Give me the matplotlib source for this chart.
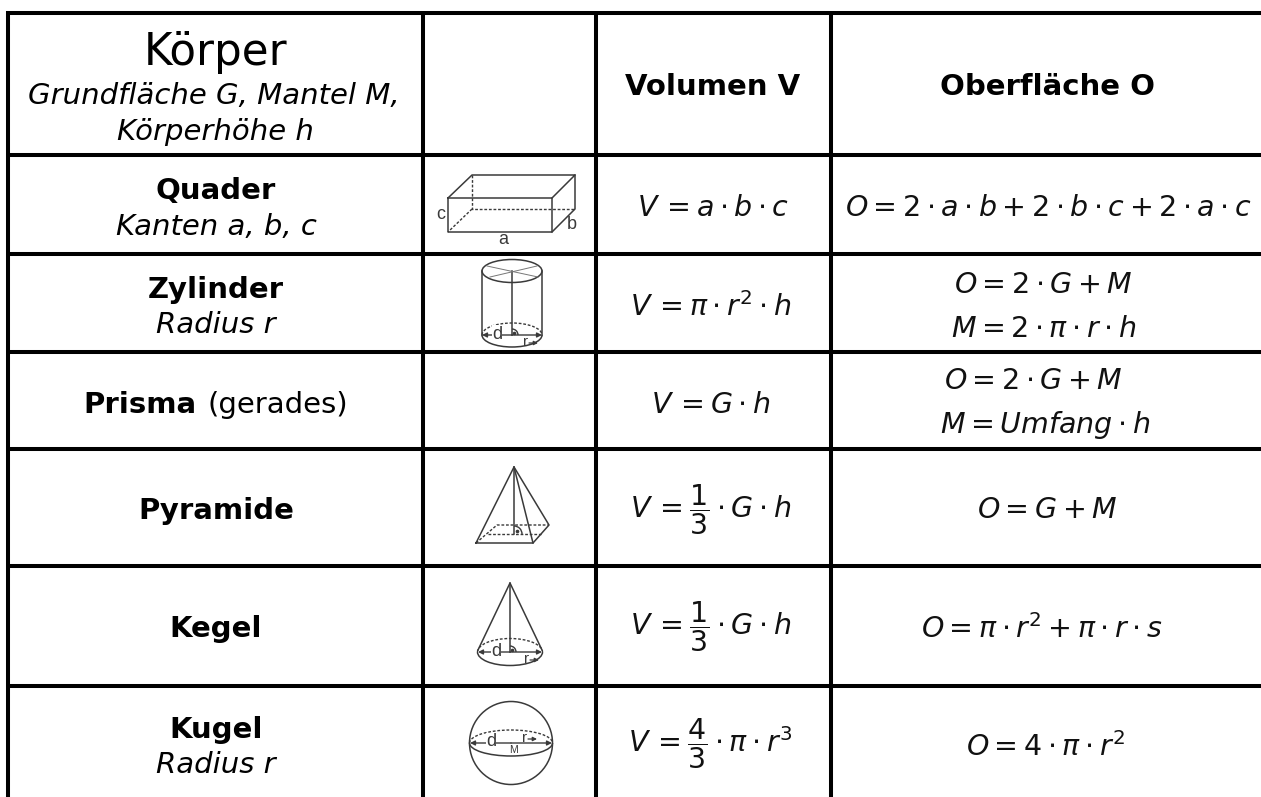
import matplotlib
matplotlib.use('Agg')
import matplotlib.pyplot as plt
from matplotlib.patches import Ellipse, Arc

plt.rcParams['mathtext.fontset'] = 'dejavusans'

# table grid (pixels)
grid_x = [8, 423, 596, 831]
grid_y = [13, 155, 254, 352, 449, 566, 686]

# left column: text, baseline
row_names = [('Quader', 199), ('Zylinder', 298), ('Pyramide', 519), ('Kegel', 637), ('Kugel', 738)]
row_subs = [('Kanten a, b, c', 235), ('Radius r', 333), ('Radius r', 773)]

# formula, left edge, baseline
volume_formulas = [(r'$V\,=a\cdot b\cdot c$', 637, 216),
                   (r'$V\,=\pi\cdot r^{2}\cdot h$', 630, 316),
                   (r'$V\,=G\cdot h$', 651, 413),
                   (r'$V\,=\dfrac{1}{3}\cdot G\cdot h$', 630, 518),
                   (r'$V\,=\dfrac{1}{3}\cdot G\cdot h$', 630, 635),
                   (r'$V\,=\dfrac{4}{3}\cdot\pi\cdot r^{3}$', 628, 752)]
surface_formulas = [(r'$O=2\cdot a\cdot b+2\cdot b\cdot c+2\cdot a\cdot c$', 845, 216),
                    (r'$O=2\cdot G+M$', 954, 293),
                    (r'$M=2\cdot\pi\cdot r\cdot h$', 951, 337),
                    (r'$O=2\cdot G+M$', 944, 389),
                    (r'$M=Umfang\cdot h$', 940, 433),
                    (r'$O=G+M$', 977, 518),
                    (r'$O=\pi\cdot r^{2}+\pi\cdot r\cdot s$', 921, 638),
                    (r'$O=4\cdot\pi\cdot r^{2}$', 966, 756)]

# sketch outlines, pixel positions
quader_solid = [[(448, 198), (552, 198), (552, 232), (448, 232), (448, 198)],
                [(448, 198), (472, 175), (575, 175), (552, 198)],
                [(575, 175), (575, 209), (552, 232)]]
quader_dashed = [[(472, 175), (472, 209), (575, 209)], [(472, 209), (448, 232)]]
quader_labels = [('c', 441, 214), ('a', 503, 239), ('b', 572, 224)]

zylinder_solid = [[(482, 271), (482, 335)], [(542, 271), (542, 335)], [(512, 271), (512, 335)]]
zylinder_cross = [[(490, 277), (537, 266)], [(487, 266), (538, 277)]]

pyramid_solid = [[(476, 543), (533, 543), (549, 525), (514, 467), (476, 543)],
                 [(514, 467), (533, 543)], [(514, 467), (514, 534)]]
pyramid_dashed = [[(476, 543), (497, 525), (549, 525)], [(488, 534), (541, 534)]]

sketch_color = '#3a3a3a'
dash = (0, (2, 1.3))


def draw_lines(ax, paths, style='-', lw=1.1, color=sketch_color):
    for path in paths:
        xs, ys = zip(*path)
        ax.plot(xs, ys, linestyle=style, lw=lw, color=color)


def draw_grid(ax):
    for x in grid_x:
        ax.plot([x, x], [11, 797], color='k', lw=2.9, solid_capstyle='butt')
    for y in grid_y:
        ax.plot([6, 1261], [y, y], color='k', lw=2.9, solid_capstyle='butt')


def draw_disc(ax, cx, cy, w, h):
    # solid front half, dashed back half
    ax.add_patch(Arc((cx, cy), w, h, theta1=0, theta2=180, color=sketch_color, lw=1.1))
    ax.add_patch(Arc((cx, cy), w, h, theta1=180, theta2=360, color=sketch_color, lw=1.0, linestyle=dash))


def draw_radius_marks(ax, cx, cy, half, d_x, r_x, r_y):
    for end in (cx - half, cx + half):
        ax.annotate('', xy=(end, cy), xytext=(cx, cy),
                    arrowprops=dict(arrowstyle='-|>', lw=1.0, color=sketch_color, mutation_scale=7,
                                    shrinkA=0, shrinkB=0))
    ax.text(d_x, cy - 1, 'd', fontsize=13, ha='center', va='center', color=sketch_color, family='Liberation Sans',
            bbox=dict(fc='white', ec='none', pad=0.3))
    ax.text(r_x, r_y, 'r', fontsize=11, ha='center', va='center', color=sketch_color, family='Liberation Sans')
    ax.annotate('', xy=(r_x + 12, r_y + 1), xytext=(r_x + 3, r_y + 1),
                arrowprops=dict(arrowstyle='-|>', lw=0.9, color=sketch_color, mutation_scale=6,
                                shrinkA=0, shrinkB=0))


def draw_right_angle(ax, x, y, size):
    ax.add_patch(Arc((x, y), size, size, theta1=270, theta2=360, color=sketch_color, lw=1.0))
    ax.plot([x + size * 0.2], [y - size * 0.2], marker='o', ms=1.6, color=sketch_color)


def draw_sketches(ax):
    draw_lines(ax, quader_solid)
    draw_lines(ax, quader_dashed, style=dash, lw=1.0)
    for label, x, y in quader_labels:
        ax.text(x, y, label, fontsize=13, ha='center', va='center', color=sketch_color, family='Liberation Sans')

    # zylinder
    ax.add_patch(Ellipse((512, 271), 60, 23, fill=False, ec=sketch_color, lw=1.1))
    draw_lines(ax, zylinder_solid)
    draw_lines(ax, zylinder_cross, lw=0.7, color='#777777')
    draw_disc(ax, 512, 335, 60, 24)
    draw_radius_marks(ax, 512, 335, 30, 497, 526, 342)
    draw_right_angle(ax, 512, 335, 12)

    # pyramide
    draw_lines(ax, pyramid_solid)
    draw_lines(ax, pyramid_dashed, style=dash, lw=1.0)
    draw_right_angle(ax, 514, 534, 16)

    # kegel
    draw_lines(ax, [[(478, 650), (510, 583), (542, 650)], [(510, 583), (510, 652)]])
    draw_disc(ax, 510, 652, 65, 27)
    draw_radius_marks(ax, 510, 652, 32, 496, 527, 659)
    draw_right_angle(ax, 510, 652, 12)

    # kugel
    ax.add_patch(Ellipse((511, 743), 83, 83, fill=False, ec=sketch_color, lw=1.1))
    draw_disc(ax, 511, 743, 83, 26)
    draw_radius_marks(ax, 511, 743, 41, 491, 525, 738)
    ax.text(513, 750, 'M', fontsize=7.5, ha='center', va='center', color=sketch_color, family='Liberation Sans')


def draw_text(ax):
    ax.text(216, 65, 'Körper', fontsize=31.4, ha='center', va='baseline')
    ax.text(214, 104, 'Grundfläche G, Mantel M,', fontsize=21, style='italic', ha='center', va='baseline')
    ax.text(215, 140, 'Körperhöhe h', fontsize=21, style='italic', ha='center', va='baseline')
    ax.text(713, 95, 'Volumen V', fontsize=21, weight='bold', ha='center', va='baseline')
    ax.text(1048, 95, 'Oberfläche O', fontsize=21, weight='bold', ha='center', va='baseline')

    for name, y in row_names:
        ax.text(216, y, name, fontsize=21, weight='bold', ha='center', va='baseline')
    for sub, y in row_subs:
        ax.text(216, y, sub, fontsize=21, style='italic', ha='center', va='baseline')

    # prisma is the one row with mixed weight
    ax.text(83, 413, 'Prisma', fontsize=21, weight='bold', ha='left', va='baseline')
    ax.text(207, 413, '(gerades)', fontsize=21, ha='left', va='baseline')

    for formula, x, y in volume_formulas + surface_formulas:
        ax.text(x, y, formula, fontsize=20.5, ha='left', va='baseline', color='#111111')


fig = plt.figure(figsize=(12.61, 7.97), dpi=100)
ax = fig.add_axes([0, 0, 1, 1])
ax.set_xlim(0, 1261)
ax.set_ylim(797, 0)
ax.axis('off')
draw_grid(ax)
draw_sketches(ax)
draw_text(ax)
fig.savefig('out.png', dpi=100)
